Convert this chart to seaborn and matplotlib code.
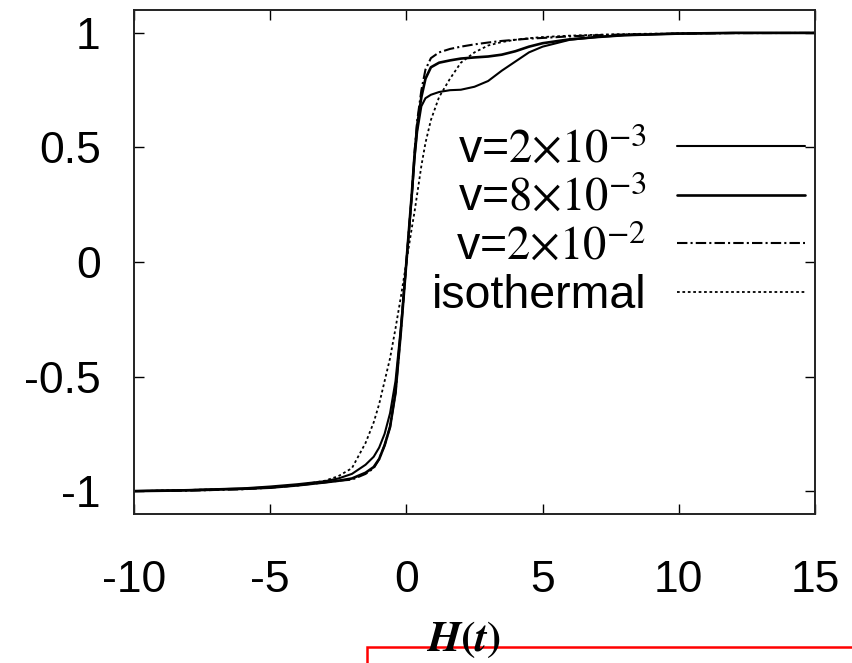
import matplotlib
matplotlib.use("Agg")
import matplotlib.pyplot as plt
import seaborn as sns
import numpy as np
import pandas as pd

# ---- data ----
H = [-10, -8, -6, -5, -4, -3, -2.5, -2, -1.5, -1.2, -1, -0.8, -0.6, -0.4, -0.2, 0,
     0.2, 0.3, 0.4, 0.55, 0.7, 0.9, 1.2, 1.6, 2.0, 2.5, 3.0, 3.5, 4.0, 4.5, 5, 6, 7, 8, 10, 12, 15]

M_v2e3 = [-1.0, -0.995, -0.988, -0.98, -0.97, -0.957, -0.945, -0.925, -0.885, -0.85, -0.81, -0.75,
          -0.66, -0.52, -0.28, 0.0, 0.29, 0.45, 0.57, 0.68, 0.715, 0.73, 0.742, 0.75, 0.752, 0.765,
          0.79, 0.835, 0.875, 0.915, 0.94, 0.97, 0.982, 0.99, 0.997, 1.0, 1.0]

M_v8e3 = [-1.0, -0.997, -0.99, -0.985, -0.975, -0.962, -0.955, -0.945, -0.92, -0.895, -0.86, -0.8,
          -0.72, -0.57, -0.3, 0.0, 0.3, 0.47, 0.6, 0.72, 0.8, 0.85, 0.87, 0.88, 0.888, 0.893,
          0.897, 0.905, 0.92, 0.94, 0.955, 0.972, 0.982, 0.99, 0.997, 1.0, 1.0]

M_v2e2 = [-1.0, -0.998, -0.992, -0.985, -0.975, -0.962, -0.955, -0.95, -0.925, -0.9, -0.86, -0.8,
          -0.72, -0.57, -0.3, 0.0, 0.3, 0.48, 0.62, 0.75, 0.84, 0.89, 0.915, 0.93, 0.94, 0.95,
          0.958, 0.965, 0.97, 0.975, 0.978, 0.985, 0.99, 0.993, 0.997, 0.999, 1.0]

M_iso = [-1.0, -0.995, -0.99, -0.985, -0.975, -0.955, -0.935, -0.9, -0.79, -0.70, -0.62, -0.52,
         -0.42, -0.29, -0.15, 0.0, 0.15, 0.22, 0.3, 0.42, 0.52, 0.62, 0.72, 0.80, 0.87, 0.915,
         0.945, 0.96, 0.97, 0.977, 0.982, 0.988, 0.992, 0.995, 0.998, 1.0, 1.0]

labels = [r"v=$2{\times}10^{-3}$", r"v=$8{\times}10^{-3}$", r"v=$2{\times}10^{-2}$", "isothermal"]
x_ticks = [-10, -5, 0, 5, 10, 15]
y_ticks = [-1, -0.5, 0, 0.5, 1]
y_ticklabels = ["-1", "-0.5", "0", "0.5", "1"]
x_label = r"$\boldsymbol{H(t)}$"

# ---- style ----
sns.set_theme(style="white")
plt.rcParams["font.family"] = ["Liberation Sans", "DejaVu Sans"]
plt.rcParams["mathtext.fontset"] = "stix"
for k in ["text.color", "xtick.color", "ytick.color", "xtick.labelcolor", "ytick.labelcolor"]:
    plt.rcParams[k] = "black"

fig = plt.figure(figsize=(8.52, 6.63), dpi=100)
ax = fig.add_axes([134 / 852, 1 - 514 / 663, (815 - 134) / 852, (514 - 10) / 663])

series = [M_v2e3, M_v8e3, M_v2e2, M_iso]
styles = [dict(lw=1.5, linestyle="-"),
          dict(lw=1.9, linestyle="-"),
          dict(lw=1.5, linestyle=(0, (5, 1.5, 1, 1.5))),
          dict(lw=1.3, linestyle=(0, (1.5, 1.5)))]
for M, lab, st in zip(series, labels, styles):
    sns.lineplot(x=H, y=M, ax=ax, color="black", label=lab, estimator=None, sort=False, **st)

ax.set_xlim(-10, 15)
ax.set_ylim(-1.1, 1.1)
ax.set_xticks(x_ticks)
ax.set_xticklabels([str(t) for t in x_ticks])
ax.set_yticks(y_ticks)
ax.set_yticklabels(y_ticklabels)
ax.tick_params(direction="in", length=7, width=1.0, labelsize=32, color="black",
               labelcolor="black", top=True, right=True, bottom=True, left=True)
ax.tick_params(axis="x", pad=33)
ax.tick_params(axis="y", pad=24)
for sp in ax.spines.values():
    sp.set_color("#222222")
    sp.set_linewidth(1.4)
ax.set_xlabel("")
ax.set_ylabel("")

leg = ax.legend(loc="upper right", bbox_to_anchor=(0.985, 0.765), frameon=False,
                markerfirst=False, fontsize=33.5, handlelength=2.75, handletextpad=0.65,
                labelspacing=0.09, borderpad=0, borderaxespad=0)
for t in leg.get_texts():
    t.set_color("black")

fig.text(464 / 852, 1 - 640 / 663, x_label, fontsize=31, ha="center", va="center",
         color="black")

rect = plt.Rectangle((367 / 852, -0.2), 0.8, 0.2 + (663 - 647) / 663, transform=fig.transFigure,
                     fill=False, edgecolor="red", linewidth=1.8, clip_on=False)
fig.patches.append(rect)

fig.savefig("out.png", dpi=100)
